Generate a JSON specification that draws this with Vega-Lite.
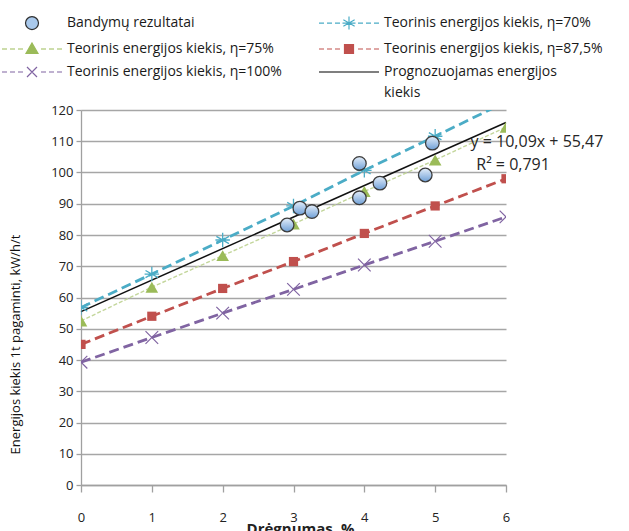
{
  "$schema": "https://vega.github.io/schema/vega-lite/v6.json",
  "width": 425,
  "height": 375,
  "autosize": "none",
  "padding": {"left": 81, "top": 110, "right": 123, "bottom": 46},
  "background": "white",
  "config": {
    "view": {"stroke": null},
    "font": "Open Sans",
    "style": {"guide-label": {"lineHeight": 21}}
  },
  "datasets": {
    "theory": [
      {"m": 0, "s": "Teorinis energijos kiekis, η=70%", "e": 56.8},
      {"m": 1, "s": "Teorinis energijos kiekis, η=70%", "e": 67.5},
      {"m": 2, "s": "Teorinis energijos kiekis, η=70%", "e": 78.4},
      {"m": 3, "s": "Teorinis energijos kiekis, η=70%", "e": 89.3},
      {"m": 4, "s": "Teorinis energijos kiekis, η=70%", "e": 100.7},
      {"m": 5, "s": "Teorinis energijos kiekis, η=70%", "e": 111.6},
      {"m": 6, "s": "Teorinis energijos kiekis, η=70%", "e": 122.6},
      {"m": 0, "s": "Teorinis energijos kiekis, η=75%", "e": 52.5},
      {"m": 1, "s": "Teorinis energijos kiekis, η=75%", "e": 63.3},
      {"m": 2, "s": "Teorinis energijos kiekis, η=75%", "e": 73.4},
      {"m": 3, "s": "Teorinis energijos kiekis, η=75%", "e": 83.5},
      {"m": 4, "s": "Teorinis energijos kiekis, η=75%", "e": 93.9},
      {"m": 5, "s": "Teorinis energijos kiekis, η=75%", "e": 104},
      {"m": 6, "s": "Teorinis energijos kiekis, η=75%", "e": 114.5},
      {"m": 0, "s": "Teorinis energijos kiekis, η=87,5%", "e": 45},
      {"m": 1, "s": "Teorinis energijos kiekis, η=87,5%", "e": 54},
      {"m": 2, "s": "Teorinis energijos kiekis, η=87,5%", "e": 62.9},
      {"m": 3, "s": "Teorinis energijos kiekis, η=87,5%", "e": 71.5},
      {"m": 4, "s": "Teorinis energijos kiekis, η=87,5%", "e": 80.5},
      {"m": 5, "s": "Teorinis energijos kiekis, η=87,5%", "e": 89.3},
      {"m": 6, "s": "Teorinis energijos kiekis, η=87,5%", "e": 98},
      {"m": 0, "s": "Teorinis energijos kiekis, η=100%", "e": 39.3},
      {"m": 1, "s": "Teorinis energijos kiekis, η=100%", "e": 47.2},
      {"m": 2, "s": "Teorinis energijos kiekis, η=100%", "e": 55},
      {"m": 3, "s": "Teorinis energijos kiekis, η=100%", "e": 62.6},
      {"m": 4, "s": "Teorinis energijos kiekis, η=100%", "e": 70.4},
      {"m": 5, "s": "Teorinis energijos kiekis, η=100%", "e": 78},
      {"m": 6, "s": "Teorinis energijos kiekis, η=100%", "e": 85.8}
    ],
    "tests": [
      {"m": 2.91, "e": 83.2},
      {"m": 3.09, "e": 88.6},
      {"m": 3.26, "e": 87.5},
      {"m": 3.93, "e": 102.9},
      {"m": 3.93, "e": 91.9},
      {"m": 4.22, "e": 96.6},
      {"m": 4.86, "e": 99.2},
      {"m": 4.96, "e": 109.4}
    ],
    "trend": [
      {"m": 0, "e": 55.47},
      {"m": 6, "e": 116.01}
    ],
    "notes": [
      {"m": 5.5, "e": 109.9, "t": "y = 10,09x + 55,47"},
      {"m": 5.58, "e": 102.3, "t": "R² = 0,791"}
    ]
  },
  "encoding": {
    "x": {
      "field": "m", "type": "quantitative",
      "scale": {"domain": [0, 6], "nice": false, "zero": false},
      "axis": {
        "title": "Drėgnumas, %",
        "values": [0, 1, 2, 3, 4, 5, 6],
        "format": "d",
        "grid": false,
        "labelFlush": false,
        "domainColor": "#a0a0a0", "domainWidth": 1.3,
        "tickColor": "#a0a0a0", "tickSize": 7, "tickWidth": 1.3,
        "labelPadding": 19, "labelFontSize": 13, "labelColor": "#222222",
        "titleFontSize": 15, "titleFontWeight": "bold", "titleColor": "#222222",
        "titleX": 219, "titleAlign": "center",
        "titleY": 48, "titleBaseline": "alphabetic"
      }
    },
    "y": {
      "field": "e", "type": "quantitative",
      "scale": {"domain": [0, 120], "nice": false, "zero": true},
      "axis": {
        "title": "Energijos kiekis 1t pagaminti,  kW/h/t",
        "values": [0, 10, 20, 30, 40, 50, 60, 70, 80, 90, 100, 110, 120],
        "format": "d",
        "grid": true, "gridColor": "#a6a6a6", "gridWidth": 1.3,
        "domainColor": "#a0a0a0", "domainWidth": 1.3,
        "tickColor": "#a0a0a0", "tickSize": 5, "tickWidth": 1.3,
        "labelFontSize": 13, "labelPadding": 3, "labelColor": "#222222",
        "titleFontSize": 13, "titleFontWeight": "normal", "titleColor": "#111111",
        "titleX": -66, "titleY": 234, "titleAngle": -90,
        "titleAlign": "center", "titleBaseline": "middle"
      }
    }
  },
  "layer": [
    {
      "data": {"name": "theory"},
      "transform": [{"filter": "datum.s == 'Teorinis energijos kiekis, η=100%'"}],
      "mark": {"type": "line", "clip": true, "color": "#8064a2", "strokeWidth": 2.8, "strokeDash": [10, 5]}
    },
    {
      "data": {"name": "theory"},
      "transform": [{"filter": "datum.s == 'Teorinis energijos kiekis, η=87,5%'"}],
      "mark": {"type": "line", "clip": true, "color": "#c0504d", "strokeWidth": 2.8, "strokeDash": [10, 5]}
    },
    {
      "data": {"name": "theory"},
      "transform": [{"filter": "datum.s == 'Teorinis energijos kiekis, η=75%'"}],
      "mark": {"type": "line", "clip": true, "color": "#c3d69b", "strokeWidth": 1.4, "strokeDash": [4, 2]}
    },
    {
      "data": {"name": "theory"},
      "transform": [{"filter": "datum.s == 'Teorinis energijos kiekis, η=70%'"}],
      "mark": {"type": "line", "clip": true, "color": "#4bacc6", "strokeWidth": 2.8, "strokeDash": [10, 5]}
    },
    {
      "data": {"name": "trend"},
      "mark": {"type": "line", "color": "#111111", "strokeWidth": 1.5}
    },
    {
      "data": {"name": "theory"},
      "transform": [{"filter": "datum.s == 'Teorinis energijos kiekis, η=70%'"}],
      "mark": {"type": "point", "clip": true, "shape": "M0,-1V1M-0.87,-0.5L0.87,0.5M-0.87,0.5L0.87,-0.5M-1,0H1", "filled": false, "color": "#4bacc6", "strokeWidth": 1.3, "size": 210, "opacity": 1}
    },
    {
      "data": {"name": "theory"},
      "transform": [{"filter": "datum.s == 'Teorinis energijos kiekis, η=75%'"}],
      "mark": {"type": "point", "clip": true, "shape": "triangle-up", "filled": true, "color": "#9bbb59", "size": 160, "opacity": 1}
    },
    {
      "data": {"name": "theory"},
      "transform": [{"filter": "datum.s == 'Teorinis energijos kiekis, η=87,5%'"}],
      "mark": {"type": "point", "clip": true, "shape": "square", "filled": true, "color": "#c0504d", "size": 85, "opacity": 1}
    },
    {
      "data": {"name": "theory"},
      "transform": [{"filter": "datum.s == 'Teorinis energijos kiekis, η=100%'"}],
      "mark": {"type": "point", "clip": true, "shape": "M-1,-1L1,1M-1,1L1,-1", "filled": false, "color": "#8064a2", "strokeWidth": 1.2, "size": 160, "opacity": 1}
    },
    {
      "data": {"name": "tests"},
      "mark": {
        "type": "point", "shape": "circle", "size": 185, "opacity": 1, "filled": true,
        "fill": {"gradient": "linear", "x1": 0, "y1": 0, "x2": 0, "y2": 1, "stops": [{"offset": 0, "color": "#e4eefa"}, {"offset": 1, "color": "#6e9fd6"}]},
        "stroke": "#3c3c3c", "strokeWidth": 1.3
      }
    },
    {
      "data": {"name": "notes"},
      "mark": {"type": "text", "align": "left", "baseline": "middle", "fontSize": 16, "color": "#262626", "font": "Open Sans"},
      "encoding": {
        "text": {"field": "t"}
      }
    },
    {
      "data": {"name": "theory"},
      "transform": [{"filter": "datum.m < 0"}],
      "mark": {"type": "point", "filled": true, "opacity": 1},
      "encoding": {
        "shape": {
          "field": "s", "type": "nominal",
          "scale": {
            "domain": ["Bandymų rezultatai", "Teorinis energijos kiekis, η=75%", "Teorinis energijos kiekis, η=100%", "Teorinis energijos kiekis, η=70%", "Teorinis energijos kiekis, η=87,5%", "Prognozuojamas energijos kiekis"],
            "range": [
              "M-1.3,0A1.3,1.3 0 1,0 1.3,0A1.3,1.3 0 1,0 -1.3,0Z",
              "M-6,0H-5M-4.4,0H-3.4M-2.8,0H-1.8M1.8,0H2.8M3.4,0H4.4M5,0H6M0,-1.2L1.2,0.9L-1.2,0.9Z",
              "M-6,0H-5M-4.4,0H-3.4M-2.8,0H-1.8M1.8,0H2.8M3.4,0H4.4M5,0H6M-1,-1L1,1M-1,1L1,-1",
              "M-6,0H-5M-4.4,0H-3.4M-2.8,0H-1.8M1.8,0H2.8M3.4,0H4.4M5,0H6M0,-1.3V1.3M-1.13,-0.65L1.13,0.65M-1.13,0.65L1.13,-0.65M-1.3,0H1.3",
              "M-6,0H-5M-4.4,0H-3.4M-2.8,0H-1.8M1.8,0H2.8M3.4,0H4.4M5,0H6M-0.9,-0.9H0.9V0.9H-0.9Z",
              "M-6,0H6"
            ]
          },
          "legend": {
            "title": null, "orient": "none", "legendX": -86, "legendY": -94,
            "columns": 2, "columnPadding": 30, "rowPadding": 8,
            "symbolSize": 100, "symbolOffset": 30, "symbolStrokeWidth": 1.2,
            "labelOffset": 28, "labelFontSize": 14, "labelColor": "#1a1a1a", "labelLimit": 300, "labelFont": "Open Sans",
            "labelExpr": "datum.label == 'Prognozuojamas energijos kiekis' ? ['Prognozuojamas energijos', 'kiekis'] : datum.label"
          }
        },
        "fill": {
          "field": "s", "type": "nominal",
          "scale": {
            "domain": ["Bandymų rezultatai", "Teorinis energijos kiekis, η=75%", "Teorinis energijos kiekis, η=100%", "Teorinis energijos kiekis, η=70%", "Teorinis energijos kiekis, η=87,5%", "Prognozuojamas energijos kiekis"],
            "range": ["#a9c9ec", "#9bbb59", "#8064a2", "#4bacc6", "#c0504d", "#000000"]
          },
          "legend": {
            "title": null, "orient": "none", "legendX": -86, "legendY": -94,
            "columns": 2, "columnPadding": 30, "rowPadding": 8,
            "symbolSize": 100, "symbolOffset": 30, "symbolStrokeWidth": 1.2,
            "labelOffset": 28, "labelFontSize": 14, "labelColor": "#1a1a1a", "labelLimit": 300, "labelFont": "Open Sans",
            "labelExpr": "datum.label == 'Prognozuojamas energijos kiekis' ? ['Prognozuojamas energijos', 'kiekis'] : datum.label"
          }
        },
        "stroke": {
          "field": "s", "type": "nominal",
          "scale": {
            "domain": ["Bandymų rezultatai", "Teorinis energijos kiekis, η=75%", "Teorinis energijos kiekis, η=100%", "Teorinis energijos kiekis, η=70%", "Teorinis energijos kiekis, η=87,5%", "Prognozuojamas energijos kiekis"],
            "range": ["#2f2f2f", "#9bbb59", "#8064a2", "#4bacc6", "#c0504d", "#000000"]
          },
          "legend": {
            "title": null, "orient": "none", "legendX": -86, "legendY": -94,
            "columns": 2, "columnPadding": 30, "rowPadding": 8,
            "symbolSize": 100, "symbolOffset": 30, "symbolStrokeWidth": 1.2,
            "labelOffset": 28, "labelFontSize": 14, "labelColor": "#1a1a1a", "labelLimit": 300, "labelFont": "Open Sans",
            "labelExpr": "datum.label == 'Prognozuojamas energijos kiekis' ? ['Prognozuojamas energijos', 'kiekis'] : datum.label"
          }
        }
      }
    }
  ]
}
